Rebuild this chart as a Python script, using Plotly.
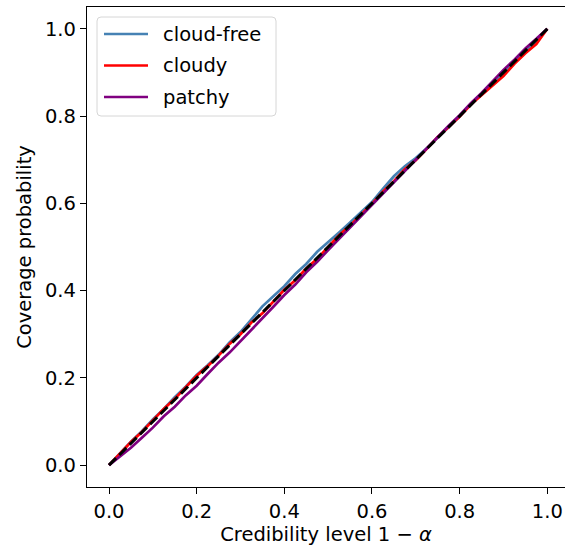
import plotly.graph_objects as go

# ---- data ----
levels = [0.0, 0.025, 0.05, 0.075, 0.1, 0.125, 0.15, 0.175, 0.2, 0.225,
          0.25, 0.275, 0.3, 0.325, 0.35, 0.375, 0.4, 0.425, 0.45, 0.475,
          0.5, 0.525, 0.55, 0.575, 0.6, 0.625, 0.65, 0.675, 0.7, 0.725,
          0.75, 0.775, 0.8, 0.825, 0.85, 0.875, 0.9, 0.925, 0.95, 0.975, 1.0]

cloud_free = [0.0, 0.027, 0.054, 0.078, 0.105, 0.129, 0.156, 0.180, 0.207, 0.229,
              0.253, 0.281, 0.305, 0.334, 0.364, 0.387, 0.410, 0.438, 0.461, 0.489,
              0.510, 0.533, 0.556, 0.579, 0.603, 0.633, 0.662, 0.685, 0.704, 0.726,
              0.750, 0.776, 0.799, 0.827, 0.850, 0.873, 0.901, 0.922, 0.948, 0.971, 1.0]

cloudy = [0.0, 0.026, 0.053, 0.076, 0.102, 0.129, 0.152, 0.178, 0.205, 0.227,
          0.251, 0.278, 0.300, 0.327, 0.348, 0.375, 0.402, 0.424, 0.451, 0.473,
          0.500, 0.527, 0.549, 0.573, 0.599, 0.627, 0.651, 0.678, 0.699, 0.725,
          0.752, 0.775, 0.799, 0.826, 0.848, 0.871, 0.892, 0.920, 0.944, 0.965, 1.0]

patchy = [0.0, 0.019, 0.040, 0.063, 0.086, 0.112, 0.134, 0.160, 0.182, 0.209,
          0.235, 0.258, 0.284, 0.311, 0.335, 0.363, 0.390, 0.414, 0.442, 0.466,
          0.493, 0.519, 0.545, 0.571, 0.597, 0.624, 0.650, 0.676, 0.700, 0.727,
          0.753, 0.778, 0.802, 0.829, 0.853, 0.880, 0.906, 0.929, 0.955, 0.977, 1.0]

diag = [0.0, 1.0]

series_names = ["cloud-free", "cloudy", "patchy"]
series_colors = ["steelblue", "red", "purple"]
series_values = [cloud_free, cloudy, patchy]

tick_vals = [0.0, 0.2, 0.4, 0.6, 0.8, 1.0]
x_title = "Credibility level 1 − <i>α</i>"
y_title = "Coverage probability"

# ---- figure ----
W, H = 565, 552
ML, MR, MT, MB = 87, 0, 7, 65
PW, PH = W - ML - MR, H - MT - MB
FONT = "DejaVu Sans"
FS = 19.5

fig = go.Figure()
for name, col, vals in zip(series_names, series_colors, series_values):
    fig.add_trace(go.Scatter(x=levels, y=vals, mode="lines", name=name,
                             line=dict(color=col, width=2.7), showlegend=False))
fig.add_trace(go.Scatter(x=diag, y=diag, mode="lines",
                         line=dict(color="black", width=3, dash="10px,4.5px"),
                         showlegend=False))


def px2paper(px, py):
    return (px - ML) / PW, (MT + PH - py) / PH


# manual legend (matplotlib style)
x0, y0 = px2paper(97, 17)
x1, y1 = px2paper(276, 116)
r = 4
rx, ry = r / PW, r / PH
path = (f"M {x0+rx},{y0} L {x1-rx},{y0} Q {x1},{y0} {x1},{y0-ry} "
        f"L {x1},{y1+ry} Q {x1},{y1} {x1-rx},{y1} L {x0+rx},{y1} "
        f"Q {x0},{y1} {x0},{y1+ry} L {x0},{y0-ry} Q {x0},{y0} {x0+rx},{y0} Z")
shapes = [dict(type="path", path=path, xref="paper", yref="paper",
               line=dict(color="#d6d6d6", width=1), fillcolor="rgba(255,255,255,0.8)")]
annotations = []
rows = [34, 65.5, 97]
for name, col, ry_ in zip(series_names, series_colors, rows):
    lx0, ly = px2paper(104, ry_)
    lx1, _ = px2paper(148, ry_)
    shapes.append(dict(type="line", xref="paper", yref="paper", x0=lx0, x1=lx1,
                       y0=ly, y1=ly, line=dict(color=col, width=2.7)))
    tx, _ = px2paper(161, ry_)
    annotations.append(dict(text=name, xref="paper", yref="paper", x=tx, y=ly,
                            xanchor="left", yanchor="middle", showarrow=False,
                            font=dict(family=FONT, size=FS, color="black")))

axis_common = dict(showgrid=False, zeroline=False, showline=True, linecolor="black",
                   linewidth=1.3, ticks="outside", ticklen=6, tickwidth=1.3,
                   tickcolor="black", tickvals=tick_vals, tickformat=".1f",
                   tickfont=dict(family=FONT, size=FS, color="black"))

fig.update_layout(
    width=W, height=H,
    margin=dict(l=ML, r=MR, t=MT, b=MB, pad=0),
    paper_bgcolor="white", plot_bgcolor="white",
    xaxis=dict(range=[-0.0502, 1.0404], mirror=True,
               title=dict(text=x_title, font=dict(family=FONT, size=FS, color="black"),
                          standoff=5),
               **axis_common),
    yaxis=dict(range=[-0.05, 1.05],
               title=dict(text=y_title, font=dict(family=FONT, size=FS, color="black"),
                          standoff=8),
               **axis_common),
    shapes=shapes,
    annotations=annotations,
    showlegend=False,
)

fig.write_html("out.html")
